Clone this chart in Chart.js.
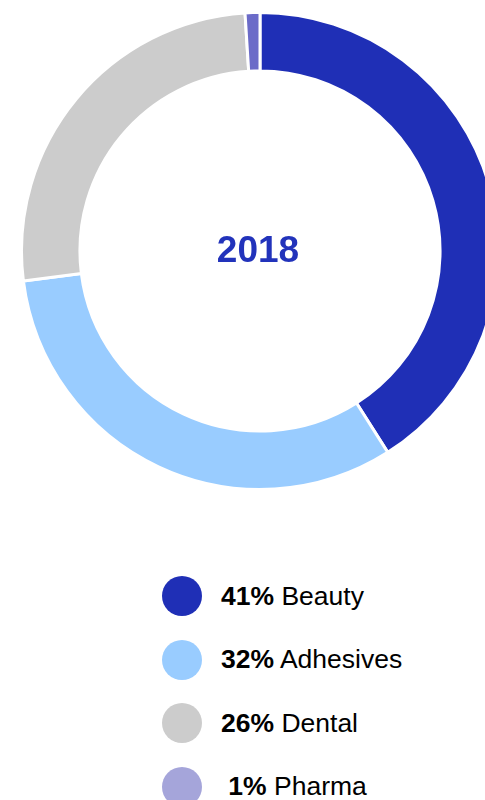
<!DOCTYPE html>
<html>
<head>
<meta charset="utf-8">
<script src="https://cdn.jsdelivr.net/npm/chart.js@4"></script>
<style>
    html, body {
        margin: 0;
        padding: 0;
        width: 485px;
        height: 800px;
        overflow: hidden;
        background: #ffffff;
        font-family: Arial, "Liberation Sans", sans-serif;
    }
    #chart-wrap {
        position: absolute;
        left: 20px;
        top: 11px;
        width: 480px;
        height: 480px;
    }
    #legend {
        position: absolute;
        left: 162px;
        top: 576px;
        margin: 0;
        padding: 0;
        list-style: none;
    }
    #legend li {
        display: flex;
        align-items: center;
        height: 40px;
        margin-bottom: 23.5px;
        font-size: 26.5px;
        color: #000;
        white-space: pre;
    }
    #legend .dot {
        width: 40px;
        height: 40px;
        border-radius: 50%;
        margin-right: 19px;
        flex: none;
    }
    #legend b {
        font-weight: bold;
    }
</style>
</head>
<body>
<div id="chart-wrap"><canvas id="mixChart"></canvas></div>
<ul id="legend"></ul>

<script>
    const year = '2018';
    const segments = ['Beauty', 'Adhesives', 'Dental', 'Pharma'];
    const shares = [41, 32, 26, 1];
    const sliceColors = ['#1f2fb6', '#99ccff', '#cccccc', '#6b6bc8'];
    const dotColors = ['#1f2fb6', '#99ccff', '#cccccc', '#a5a5da'];

    // year label in the hole of the doughnut
    const centerText = {
        id: 'centerText',
        afterDraw(chart) {
            const meta = chart.getDatasetMeta(0);
            if (!meta.data.length) return;
            const { x, y } = meta.data[0];
            const ctx = chart.ctx;
            ctx.save();
            ctx.font = 'bold 37px Arial, "Liberation Sans", sans-serif';
            ctx.fillStyle = '#2233bb';
            ctx.textAlign = 'center';
            ctx.textBaseline = 'middle';
            ctx.fillText(year, x - 2, y + 1);
            ctx.restore();
        }
    };

    new Chart(document.getElementById('mixChart'), {
        type: 'doughnut',
        data: {
            labels: segments,
            datasets: [{
                data: shares,
                backgroundColor: sliceColors,
                borderColor: '#ffffff',
                borderWidth: 3
            }]
        },
        options: {
            responsive: true,
            maintainAspectRatio: false,
            animation: false,
            cutout: '75.5%',
            layout: { padding: 0 },
            plugins: {
                legend: { display: false },
                tooltip: { enabled: false }
            }
        },
        plugins: [centerText]
    });

    const legend = document.getElementById('legend');
    segments.forEach(function (name, i) {
        const li = document.createElement('li');
        const dot = document.createElement('span');
        dot.className = 'dot';
        dot.style.background = dotColors[i];
        const pct = document.createElement('b');
        pct.textContent = (shares[i] < 10 ? ' ' : '') + shares[i] + '%';
        li.appendChild(dot);
        li.appendChild(pct);
        li.appendChild(document.createTextNode(' ' + name));
        legend.appendChild(li);
    });
</script>
</body>
</html>
